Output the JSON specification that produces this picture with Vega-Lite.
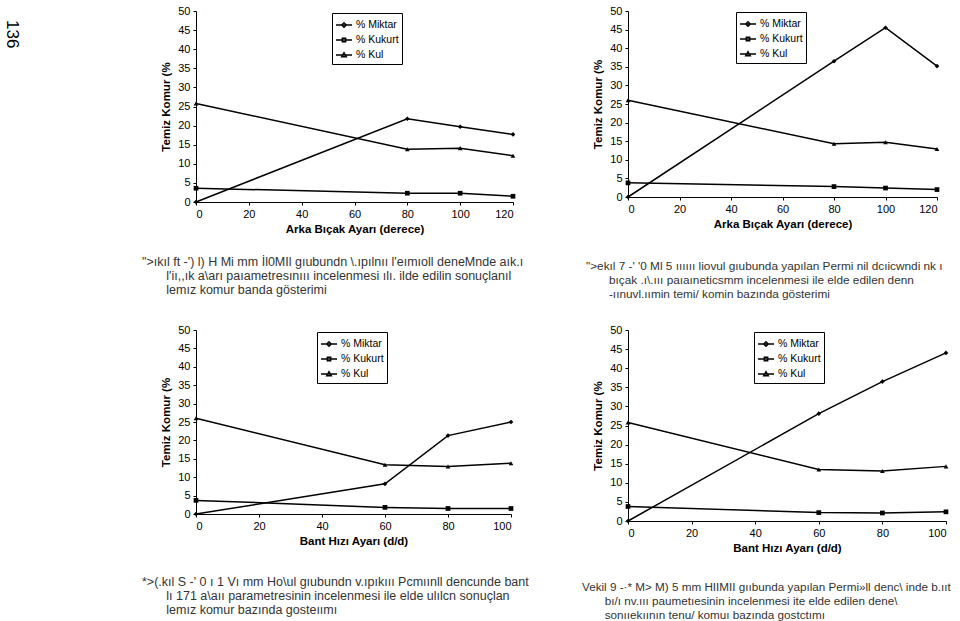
{
  "$schema": "https://vega.github.io/schema/vega-lite/v6.json",
  "background": "white",
  "padding": {"left": 4, "top": 5, "right": 5, "bottom": 5},
  "title": {"text": "136", "orient": "left", "anchor": "end", "angle": 90, "align": "left", "dx": 9, "fontSize": 17, "font": "Liberation Sans", "fontWeight": "normal", "color": "black", "offset": 105},
  "datasets": {
    "d": [
      {"panel": 1, "x": 0, "series": "% Miktar", "y": 0},
      {"panel": 1, "x": 80, "series": "% Miktar", "y": 21.8},
      {"panel": 1, "x": 100, "series": "% Miktar", "y": 19.7},
      {"panel": 1, "x": 120, "series": "% Miktar", "y": 17.7},
      {"panel": 1, "x": 0, "series": "% Kukurt", "y": 3.6},
      {"panel": 1, "x": 80, "series": "% Kukurt", "y": 2.3},
      {"panel": 1, "x": 100, "series": "% Kukurt", "y": 2.3},
      {"panel": 1, "x": 120, "series": "% Kukurt", "y": 1.5},
      {"panel": 1, "x": 0, "series": "% Kul", "y": 25.8},
      {"panel": 1, "x": 80, "series": "% Kul", "y": 13.8},
      {"panel": 1, "x": 100, "series": "% Kul", "y": 14.1},
      {"panel": 1, "x": 120, "series": "% Kul", "y": 12.1},
      {"panel": 2, "x": 0, "series": "% Miktar", "y": 0},
      {"panel": 2, "x": 80, "series": "% Miktar", "y": 36.5},
      {"panel": 2, "x": 100, "series": "% Miktar", "y": 45.5},
      {"panel": 2, "x": 120, "series": "% Miktar", "y": 35.2},
      {"panel": 2, "x": 0, "series": "% Kukurt", "y": 3.8},
      {"panel": 2, "x": 80, "series": "% Kukurt", "y": 2.8},
      {"panel": 2, "x": 100, "series": "% Kukurt", "y": 2.4},
      {"panel": 2, "x": 120, "series": "% Kukurt", "y": 2.0},
      {"panel": 2, "x": 0, "series": "% Kul", "y": 26.0},
      {"panel": 2, "x": 80, "series": "% Kul", "y": 14.3},
      {"panel": 2, "x": 100, "series": "% Kul", "y": 14.7},
      {"panel": 2, "x": 120, "series": "% Kul", "y": 12.9},
      {"panel": 3, "x": 0, "series": "% Miktar", "y": 0},
      {"panel": 3, "x": 60, "series": "% Miktar", "y": 8.2},
      {"panel": 3, "x": 80, "series": "% Miktar", "y": 21.3},
      {"panel": 3, "x": 100, "series": "% Miktar", "y": 25.0},
      {"panel": 3, "x": 0, "series": "% Kukurt", "y": 3.7},
      {"panel": 3, "x": 60, "series": "% Kukurt", "y": 1.8},
      {"panel": 3, "x": 80, "series": "% Kukurt", "y": 1.5},
      {"panel": 3, "x": 100, "series": "% Kukurt", "y": 1.5},
      {"panel": 3, "x": 0, "series": "% Kul", "y": 26.0},
      {"panel": 3, "x": 60, "series": "% Kul", "y": 13.4},
      {"panel": 3, "x": 80, "series": "% Kul", "y": 12.9},
      {"panel": 3, "x": 100, "series": "% Kul", "y": 13.8},
      {"panel": 4, "x": 0, "series": "% Miktar", "y": 0},
      {"panel": 4, "x": 60, "series": "% Miktar", "y": 28.1},
      {"panel": 4, "x": 80, "series": "% Miktar", "y": 36.5},
      {"panel": 4, "x": 100, "series": "% Miktar", "y": 44.0},
      {"panel": 4, "x": 0, "series": "% Kukurt", "y": 3.8},
      {"panel": 4, "x": 60, "series": "% Kukurt", "y": 2.2},
      {"panel": 4, "x": 80, "series": "% Kukurt", "y": 2.1},
      {"panel": 4, "x": 100, "series": "% Kukurt", "y": 2.4},
      {"panel": 4, "x": 0, "series": "% Kul", "y": 25.8},
      {"panel": 4, "x": 60, "series": "% Kul", "y": 13.5},
      {"panel": 4, "x": 80, "series": "% Kul", "y": 13.1},
      {"panel": 4, "x": 100, "series": "% Kul", "y": 14.3}
    ]
  },
  "data": {"name": "d"},
  "columns": 2,
  "bounds": "flush",
  "spacing": {"column": 115, "row": 128},
  "resolve": {"scale": {"shape": "independent", "x": "independent", "y": "independent"}, "legend": {"shape": "independent"}},
  "concat": [
    {
      "width": 317, "height": 191,
      "transform": [{"filter": "datum.panel == 1"}],
      "title": {"text": ["\">ıkıl ft -') l) H Mi mm İl0MIl gıubundn \\.ıpılnıı l'eımıoll deneMnde aık.ı", "\u200b\u00a0\u00a0\u00a0\u00a0\u00a0\u00a0\u00a0l'iı,,ık a\\arı paıametresınııı incelenmesi ılı. ilde edilin sonuçlanıl", "\u200b\u00a0\u00a0\u00a0\u00a0\u00a0\u00a0\u00a0lemız komur banda gösterimi"], "dx": -54, "offset": 21},
      "encoding": {
        "x": {"field": "x", "type": "quantitative", "scale": {"domain": [0, 120], "nice": false}, "axis": {"values": [0, 20, 40, 60, 80, 100, 120], "title": "Arka Bıçak Ayarı (derece)"}},
        "y": {"field": "y", "type": "quantitative", "scale": {"domain": [0, 50], "nice": false}, "axis": {"values": [0, 5, 10, 15, 20, 25, 30, 35, 40, 45, 50], "title": "Temiz Komur (%"}}
      },
      "resolve": {"scale": {"shape": "independent"}},
      "layer": [
        {"mark": {"type": "line", "color": "black", "strokeWidth": 1.5}, "encoding": {"detail": {"field": "series"}}},
        {"mark": {"type": "point", "filled": true, "color": "black", "size": 22, "opacity": 1}, "encoding": {"shape": {"field": "series", "type": "nominal", "scale": {"domain": ["% Miktar", "% Kukurt", "% Kul"], "range": ["diamond", "square", "triangle-up"]}, "legend": null}}},
        {"mark": {"type": "point", "filled": false, "color": "black", "opacity": 0}, "encoding": {"shape": {"field": "series", "type": "nominal", "scale": {"domain": ["% Miktar", "% Kukurt", "% Kul"], "range": ["M-1,0L1,0M0,-0.3L0.3,0L0,0.3L-0.3,0Z", "M-1,0L1,0M-0.22,-0.22H0.22V0.22H-0.22Z", "M-1,0L1,0M0,-0.3L0.3,0.22L-0.3,0.22Z"]}, "legend": {"orient": "none", "legendX": 136, "legendY": 2, "title": null}}}}
      ]
    },
    {
      "width": 309, "height": 186,
      "transform": [{"filter": "datum.panel == 2"}],
      "title": {"text": ["\">ekıl 7 -' '0 Ml 5 ıııııı liovul gıubunda yapılan Permi nil dcıicwndi nk ı", "\u200b\u00a0\u00a0\u00a0\u00a0\u00a0\u00a0\u00a0bıçak .ı\\.ııı paıaıneticsmm incelenmesi ile elde edilen denn", "\u200b\u00a0\u00a0\u00a0\u00a0\u00a0\u00a0\u00a0-ıınuvl.ıımin temi/ komin bazında gösterimi"], "dx": -42, "offset": 31, "fontSize": 11.8},
      "encoding": {
        "x": {"field": "x", "type": "quantitative", "scale": {"domain": [0, 120], "nice": false}, "axis": {"values": [0, 20, 40, 60, 80, 100, 120], "title": "Arka Bıçak Ayarı (derece)"}},
        "y": {"field": "y", "type": "quantitative", "scale": {"domain": [0, 50], "nice": false}, "axis": {"values": [0, 5, 10, 15, 20, 25, 30, 35, 40, 45, 50], "title": "Temiz Komur (%"}}
      },
      "resolve": {"scale": {"shape": "independent"}},
      "layer": [
        {"mark": {"type": "line", "color": "black", "strokeWidth": 1.5}, "encoding": {"detail": {"field": "series"}}},
        {"mark": {"type": "point", "filled": true, "color": "black", "size": 22, "opacity": 1}, "encoding": {"shape": {"field": "series", "type": "nominal", "scale": {"domain": ["% Miktar", "% Kukurt", "% Kul"], "range": ["diamond", "square", "triangle-up"]}, "legend": null}}},
        {"mark": {"type": "point", "filled": false, "color": "black", "opacity": 0}, "encoding": {"shape": {"field": "series", "type": "nominal", "scale": {"domain": ["% Miktar", "% Kukurt", "% Kul"], "range": ["M-1,0L1,0M0,-0.3L0.3,0L0,0.3L-0.3,0Z", "M-1,0L1,0M-0.22,-0.22H0.22V0.22H-0.22Z", "M-1,0L1,0M0,-0.3L0.3,0.22L-0.3,0.22Z"]}, "legend": {"orient": "none", "legendX": 108, "legendY": 1, "title": null}}}}
      ]
    },
    {
      "width": 315, "height": 184,
      "transform": [{"filter": "datum.panel == 3"}],
      "title": {"text": ["*>(.kıl S -' 0 ı 1 Vı mm Ho\\ul gıubundn v.ıpıkııı Pcmıınll dencunde bant", "\u200b\u00a0\u00a0\u00a0\u00a0\u00a0\u00a0\u00a0lı 171 a\\aıı parametresinin incelenmesi ile elde ulılcn sonuçlan", "\u200b\u00a0\u00a0\u00a0\u00a0\u00a0\u00a0\u00a0lemız komur bazında gosteıımı"], "dx": -54, "offset": 29},
      "encoding": {
        "x": {"field": "x", "type": "quantitative", "scale": {"domain": [0, 100], "nice": false}, "axis": {"values": [0, 20, 40, 60, 80, 100], "title": "Bant Hızı Ayarı (d/d)"}},
        "y": {"field": "y", "type": "quantitative", "scale": {"domain": [0, 50], "nice": false}, "axis": {"values": [0, 5, 10, 15, 20, 25, 30, 35, 40, 45, 50], "title": "Temiz Komur (%"}}
      },
      "resolve": {"scale": {"shape": "independent"}},
      "layer": [
        {"mark": {"type": "line", "color": "black", "strokeWidth": 1.5}, "encoding": {"detail": {"field": "series"}}},
        {"mark": {"type": "point", "filled": true, "color": "black", "size": 22, "opacity": 1}, "encoding": {"shape": {"field": "series", "type": "nominal", "scale": {"domain": ["% Miktar", "% Kukurt", "% Kul"], "range": ["diamond", "square", "triangle-up"]}, "legend": null}}},
        {"mark": {"type": "point", "filled": false, "color": "black", "opacity": 0}, "encoding": {"shape": {"field": "series", "type": "nominal", "scale": {"domain": ["% Miktar", "% Kukurt", "% Kul"], "range": ["M-1,0L1,0M0,-0.3L0.3,0L0,0.3L-0.3,0Z", "M-1,0L1,0M-0.22,-0.22H0.22V0.22H-0.22Z", "M-1,0L1,0M0,-0.3L0.3,0.22L-0.3,0.22Z"]}, "legend": {"orient": "none", "legendX": 121, "legendY": 2, "title": null}}}}
      ]
    },
    {
      "width": 318, "height": 191,
      "transform": [{"filter": "datum.panel == 4"}],
      "title": {"text": ["Vekil 9 -·* M> M) 5 mm HIIMII gııbunda yapılan Permi»ll denc\\ inde b.ııt", "\u200b\u00a0\u00a0\u00a0\u00a0\u00a0\u00a0\u00a0bı/ı nv.ııı paumetıesinin incelenmesi ite elde edilen dene\\", "\u200b\u00a0\u00a0\u00a0\u00a0\u00a0\u00a0\u00a0sonııekıının tenu/ komuı bazında gostctımı"], "dx": -46, "offset": 28, "fontSize": 11.7},
      "encoding": {
        "x": {"field": "x", "type": "quantitative", "scale": {"domain": [0, 100], "nice": false}, "axis": {"values": [0, 20, 40, 60, 80, 100], "title": "Bant Hızı Ayarı (d/d)"}},
        "y": {"field": "y", "type": "quantitative", "scale": {"domain": [0, 50], "nice": false}, "axis": {"values": [0, 5, 10, 15, 20, 25, 30, 35, 40, 45, 50], "title": "Temiz Komur (%"}}
      },
      "resolve": {"scale": {"shape": "independent"}},
      "layer": [
        {"mark": {"type": "line", "color": "black", "strokeWidth": 1.5}, "encoding": {"detail": {"field": "series"}}},
        {"mark": {"type": "point", "filled": true, "color": "black", "size": 22, "opacity": 1}, "encoding": {"shape": {"field": "series", "type": "nominal", "scale": {"domain": ["% Miktar", "% Kukurt", "% Kul"], "range": ["diamond", "square", "triangle-up"]}, "legend": null}}},
        {"mark": {"type": "point", "filled": false, "color": "black", "opacity": 0}, "encoding": {"shape": {"field": "series", "type": "nominal", "scale": {"domain": ["% Miktar", "% Kukurt", "% Kul"], "range": ["M-1,0L1,0M0,-0.3L0.3,0L0,0.3L-0.3,0Z", "M-1,0L1,0M-0.22,-0.22H0.22V0.22H-0.22Z", "M-1,0L1,0M0,-0.3L0.3,0.22L-0.3,0.22Z"]}, "legend": {"orient": "none", "legendX": 126, "legendY": 2, "title": null}}}}
      ]
    }
  ],
  "config": {
    "view": {"stroke": null},
    "axis": {"grid": false, "domainColor": "black", "tickColor": "black", "labelColor": "black", "titleColor": "black", "labelFont": "Liberation Sans", "labelFontSize": 11, "titleFont": "Liberation Sans", "titleFontSize": 11.5, "titleFontWeight": "bold", "tickSize": 3, "labelPadding": 3},
    "axisY": {"titlePadding": 6},
    "axisX": {"titlePadding": 4},
    "legend": {"strokeColor": "black", "padding": 3, "labelFont": "Liberation Sans", "labelFontSize": 10.5, "labelColor": "black", "symbolSize": 256, "rowPadding": 0, "labelOffset": 3, "fillColor": "white", "symbolOpacity": 1, "symbolFillColor": "black", "symbolStrokeColor": "black", "symbolStrokeWidth": 1.3},
    "title": {"orient": "bottom", "anchor": "start", "frame": "group", "font": "Liberation Sans", "fontSize": 12.5, "fontWeight": "normal", "color": "#333", "lineHeight": 14, "align": "left"}
  }
}
